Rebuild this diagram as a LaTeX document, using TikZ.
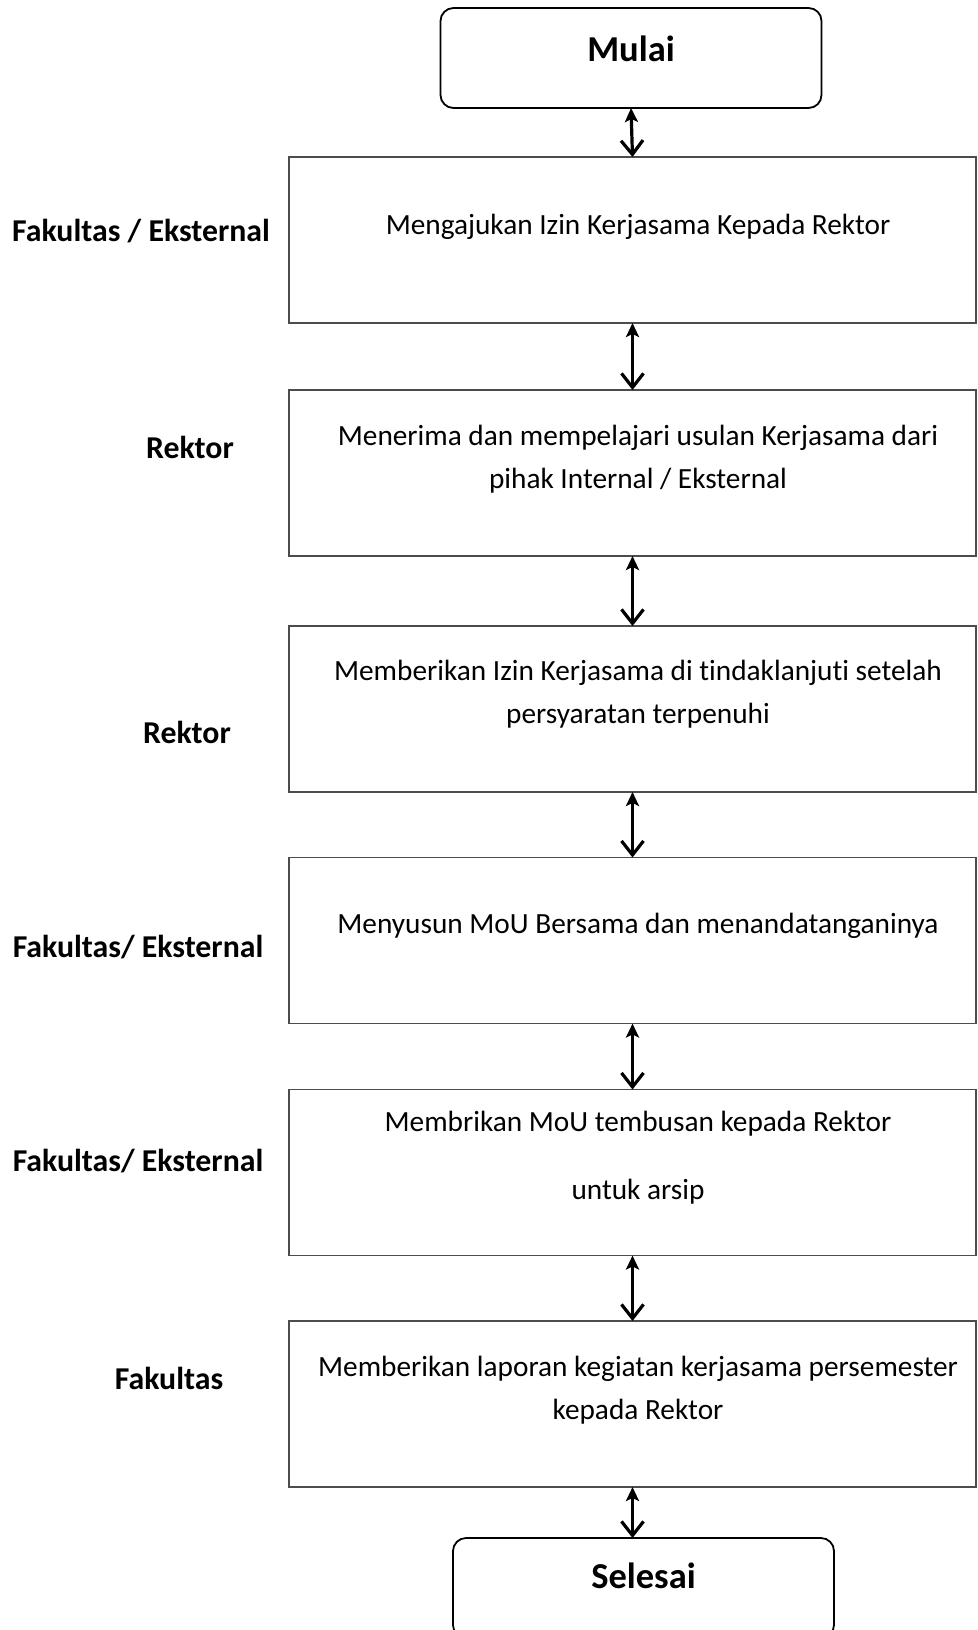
\documentclass[tikz,border=0pt]{standalone}
\usepackage{fontspec}
\setmainfont{Carlito}[Ligatures=NoCommon]
\usetikzlibrary{arrows.meta}
\begin{document}
\begin{tikzpicture}[x=1pt,y=-1pt,
  stepbox/.style={draw=black!70,line width=1.4pt,rectangle,inner sep=0pt,outer sep=0pt,
    minimum width=687pt,minimum height=166pt},
  term/.style={draw=black,line width=1.8pt,rectangle,rounded corners=13pt,inner sep=0pt,outer sep=0pt,
    minimum width=381pt,minimum height=100pt},
  body/.style={font=\fontsize{29.3}{43}\selectfont,align=center,inner sep=0pt},
  role/.style={font=\fontsize{31.8}{38}\selectfont\bfseries,inner sep=0pt},
  termtext/.style={font=\fontsize{36.5}{40}\selectfont\bfseries,inner sep=0pt},
  flow/.style={line width=3.2pt,{Stealth[length=14pt,width=13pt,inset=3pt]}-{Straight Barb[length=14pt,width=22pt,line width=3.2pt]}}
]
\useasboundingbox (0,0) rectangle (977,1630);
\clip (0,0) rectangle (977,1630);

% start and end terminals
\node[term] (mulai) at (631,58) {};
\node[termtext] (tmulai) at (631,49) {Mulai};
\node[term] (selesai) at (643.5,1588) {};
\node[termtext] (tselesai) at (643.5,1576) {Selesai};

% process steps
\node[stepbox] (b1) at (632.5,240) {};
\node[stepbox] (b2) at (632.5,473) {};
\node[stepbox] (b3) at (632.5,709) {};
\node[stepbox] (b4) at (632.5,940.5) {};
\node[stepbox] (b5) at (632.5,1172.5) {};
\node[stepbox] (b6) at (632.5,1404) {};

\node[body] (t1) at (638,227) {Mengajukan Izin Kerjasama Kepada Rektor};
\node[body] (t2) at (638,459.5) {Menerima dan mempelajari usulan Kerjasama dari\\pihak Internal / Eksternal};
\node[body] (t3) at (638,694) {Memberikan Izin Kerjasama di tindaklanjuti setelah\\persyaratan terpenuhi};
\node[body] (t4) at (638,926) {Menyusun MoU Bersama dan menandatanganinya};
\node[body] (t5a) at (638,1124) {Membrikan MoU tembusan kepada Rektor};
\node[body] (t5b) at (638,1192) {untuk arsip};
\node[body] (t6) at (638,1390.5) {Memberikan laporan kegiatan kerjasama persemester\\kepada Rektor};

% roles on the left
\node[role] (r1) at (141,231) {Fakultas / Eksternal};
\node[role] (r2) at (190,447) {Rektor};
\node[role] (r3) at (187,732) {Rektor};
\node[role] (r4) at (138,947) {Fakultas/ Eksternal};
\node[role] (r5) at (138,1161) {Fakultas/ Eksternal};
\node[role] (r6) at (169,1378) {Fakultas};

% connectors
\draw[flow] (mulai.south) -- (b1.north);
\draw[flow] (b1.south) -- (b2.north);
\draw[flow] (b2.south) -- (b3.north);
\draw[flow] (b3.south) -- (b4.north);
\draw[flow] (b4.south) -- (b5.north);
\draw[flow] (b5.south) -- (b6.north);
\draw[flow] (b6.south) -- (b6.south |- selesai.north);
\end{tikzpicture}
\end{document}
